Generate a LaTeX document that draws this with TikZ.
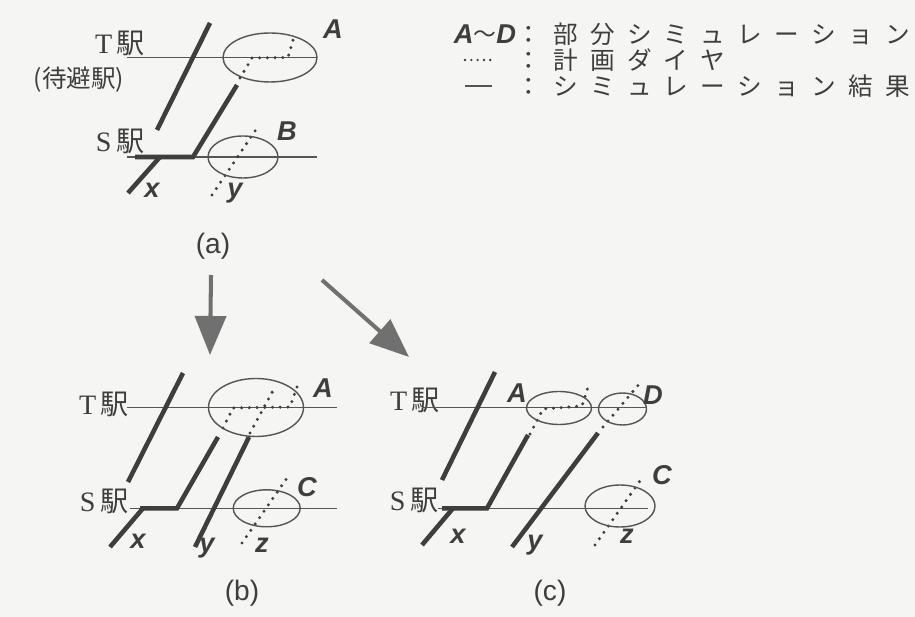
\documentclass[tikz,border=0pt]{standalone}
\usepackage{fontspec}
\setmainfont{Liberation Serif}
\setsansfont{Liberation Sans}
\newfontfamily\jpfont{Noto Sans CJK JP}
\usetikzlibrary{arrows.meta, positioning}
\definecolor{ink}{RGB}{62,62,62}
\definecolor{trackgray}{RGB}{85,85,85}
\definecolor{arrowgray}{RGB}{112,112,112}
\definecolor{paper}{RGB}{245,245,243}
\newcommand\gapj{\kern7pt}
\tikzset{
  track/.style={line width=0.8pt, color=trackgray},
  zone/.style={line width=0.8pt, color=trackgray},
  result/.style={line width=2.6pt, color=ink},
  plan/.style={line width=1.9pt, color=ink, line cap=round, dash pattern=on 0pt off 4.4pt},
  station/.style={inner sep=0pt, text=ink, font=\fontsize{16}{18}\selectfont},
  tag/.style={inner sep=0pt, text=ink, font=\sffamily\bfseries\itshape\fontsize{15.5}{18}\selectfont},
  caption/.style={inner sep=0pt, text=ink, font=\sffamily\fontsize{16}{18}\selectfont},
  legendtext/.style={inner sep=0pt, anchor=west, text=ink, font=\jpfont\fontsize{14}{16}\selectfont},
  bigarrow/.style={-{Triangle[length=0.78cm, width=0.62cm]}, line width=2.3pt, color=arrowgray}
}

\begin{document}
\begin{tikzpicture}[x=0.02cm, y=-0.02cm]
  \fill[paper] (0,0) rectangle (915,617);
  \useasboundingbox (0,0) rectangle (915,617);

  % Panel (a)
  \node[station] (aT) at (120,43) {T\,{\jpfont 駅}};
  \node[station, font=\jpfont\fontsize{14}{17}\selectfont] (aWait) at (79,80) {(待避駅)};
  \node[station] (aS) at (120,141) {S\,{\jpfont 駅}};
  \draw[track] (127,57.7) -- (317,57.7);
  \draw[track] (127,157) -- (317,157);
  \draw[result] (210,23) -- (157,130);
  \draw[result] (128,193) -- (160,157);
  \draw[result] (135,157) -- (193,157) -- (237,85);
  \draw[plan] (212,195) -- (257,128);
  \draw[plan] (240,78) -- (252,58) -- (288,57.5) -- (295,33);
  \draw[zone] (270,57.5) ellipse [x radius=0.94cm, y radius=0.49cm];
  \draw[zone] (243,157) ellipse [x radius=0.70cm, y radius=0.42cm];
  \node[tag] (aA) at (333,29) {A};
  \node[tag] (aB) at (287,131) {B};
  \node[tag] (ax) at (152,190) {x};
  \node[tag] (ay) at (235,193) {y};
  \node[caption] (capA) at (213,246) {(a)};

  % Legend
  \node[tag] (keyAD) at (485,34) {A{\normalfont\jpfont\fontsize{13}{15}\selectfont\raisebox{0.5pt}{～}}D};
  \node[legendtext] (txtPart) at (516,34) {：\gapj 部\gapj 分\gapj シ\gapj ミ\gapj ュ\gapj レ\gapj ー\gapj シ\gapj ョ\gapj ン};
  \draw[plan, line width=1.5pt, dash pattern=on 0pt off 3.6pt] (465,60) -- (491,60);
  \node[legendtext] (txtPlan) at (516,60) {：\gapj 計\gapj 画\gapj ダ\gapj イ\gapj ヤ};
  \draw[track, line width=1.1pt] (465,86) -- (492,86);
  \node[legendtext] (txtResult) at (516,86) {：\gapj シ\gapj ミ\gapj ュ\gapj レ\gapj ー\gapj シ\gapj ョ\gapj ン\gapj 結\gapj 果};

  % Arrows from (a)
  \coordinate (dnFrom) at (211,275);
  \coordinate (dnTo) at (210,355);
  \coordinate (dgFrom) at (322,280);
  \coordinate (dgTo) at (409,357);
  \draw[bigarrow] (dnFrom) -- (dnTo);
  \draw[bigarrow] (dgFrom) -- (dgTo);

  % Panel (b)
  \node[station] (bT) at (104,404) {T\,{\jpfont 駅}};
  \node[station] (bS) at (104,501) {S\,{\jpfont 駅}};
  \draw[track] (127,407.7) -- (337,407.7);
  \draw[track] (130,508.3) -- (337,508.3);
  \draw[result] (183,373) -- (128,482);
  \draw[result] (110,547) -- (143,508.3);
  \draw[result] (140,508.3) -- (177,508.3) -- (218,437);
  \draw[result] (195,547) -- (249,437);
  \draw[plan] (223,428) -- (233,408) -- (290,407) -- (297,387);
  \draw[plan] (250,433) -- (275,387);
  \draw[plan] (242,543) -- (287,478);
  \draw[zone] (256,407.5) ellipse [x radius=0.95cm, y radius=0.58cm];
  \draw[zone] (266.7,508.3) ellipse [x radius=0.67cm, y radius=0.37cm];
  \node[tag] (bA) at (323,388) {A};
  \node[tag] (bC) at (307,487) {C};
  \node[tag] (bx) at (138,541) {x};
  \node[tag] (by) at (207,548) {y};
  \node[tag] (bz) at (262,545) {z};
  \node[caption] (capB) at (242,593) {(b)};

  % Panel (c)
  \node[station] (cT) at (415,400) {T\,{\jpfont 駅}};
  \node[station] (cS) at (414,500) {S\,{\jpfont 駅}};
  \draw[track] (422,407.7) -- (647,407.7);
  \draw[track] (438,508.3) -- (648,508.3);
  \draw[result] (495,372) -- (442,480);
  \draw[result] (422,545) -- (453,508.3);
  \draw[result] (442,508.3) -- (487,508.3) -- (528,435);
  \draw[result] (512,547) -- (598,433);
  \draw[plan] (530,434) -- (543,409) -- (582,406) -- (589,384);
  \draw[plan] (603,427) -- (640,383);
  \draw[plan] (595,545) -- (642,478);
  \draw[zone] (559,408) ellipse [x radius=0.65cm, y radius=0.33cm];
  \draw[zone] (622.5,409) ellipse [x radius=0.48cm, y radius=0.32cm];
  \draw[zone] (620,506) ellipse [x radius=0.70cm, y radius=0.42cm];
  \node[tag] (cA) at (517,393) {A};
  \node[tag] (cD) at (653,395) {D};
  \node[tag] (cC) at (662,475) {C};
  \node[tag] (cx) at (458,536) {x};
  \node[tag] (cy) at (535,545) {y};
  \node[tag] (cz) at (627,536) {z};
  \node[caption] (capC) at (550,593) {(c)};
\end{tikzpicture}
\end{document}
